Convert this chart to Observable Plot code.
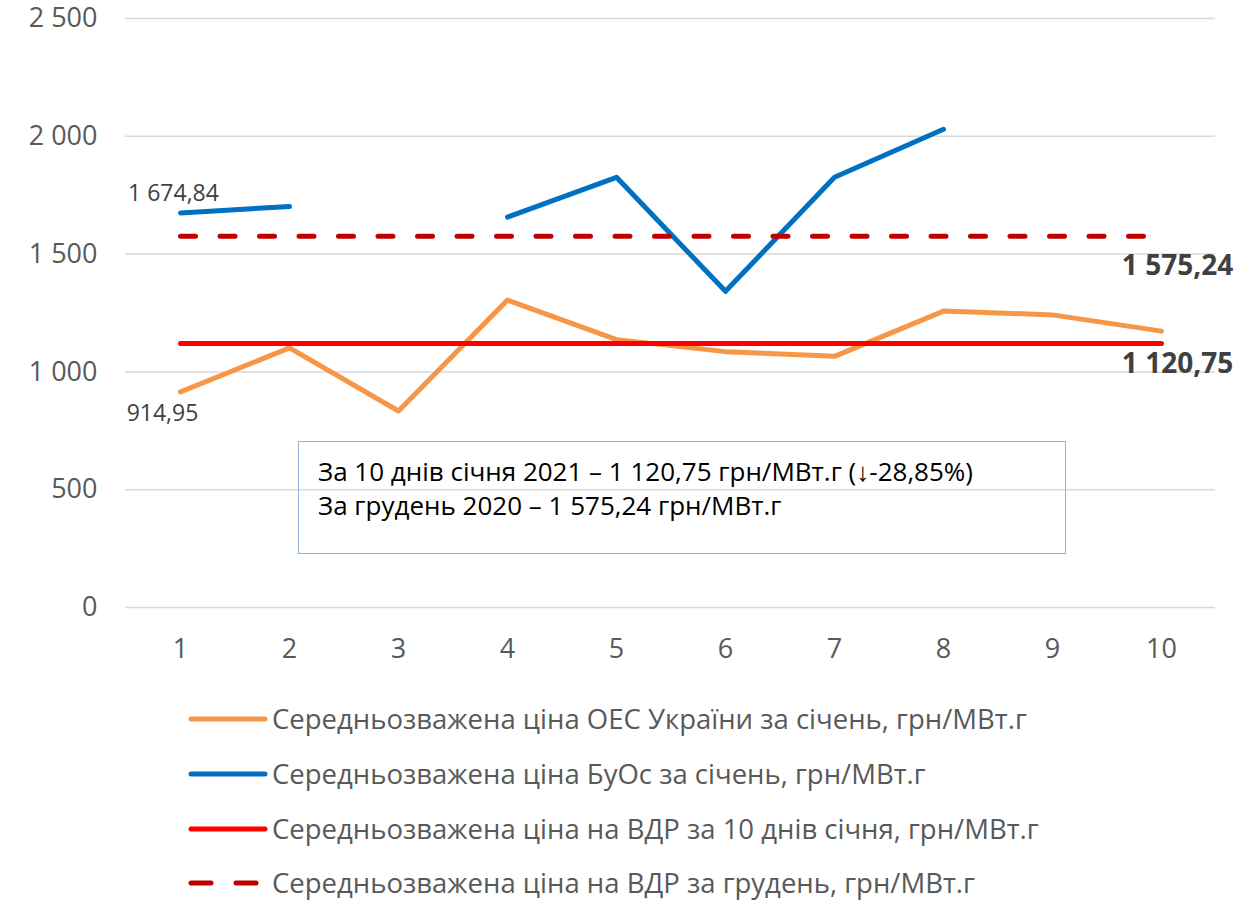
<!DOCTYPE html>
<html>
<head>
<meta charset="utf-8">
<script src="https://cdn.jsdelivr.net/npm/d3@7"></script>
<script src="https://cdn.jsdelivr.net/npm/@observablehq/plot@0.6"></script>
<style>
  html, body { margin: 0; padding: 0; background: #fff; }
  #wrap { position: relative; width: 1236px; height: 900px; font-family: "Open Sans", "Liberation Sans", sans-serif; }
  #chart svg { overflow: visible; }
  #note { position: absolute; left: 298px; top: 441px; width: 766px; height: 111px; border: 1.5px solid #95B3D7; box-sizing: content-box; font-size: 26px; color: #000; }
  #note div { position: absolute; left: 19px; white-space: nowrap; line-height: 1; }
  .leg { position: absolute; left: 188px; height: 36px; display: flex; align-items: center; font-size: 27.5px; line-height: 1; color: #595959; white-space: nowrap; }
  .leg svg { margin-right: 4px; }
</style>
</head>
<body>
<div id="wrap">
  <div id="chart"></div>
  <div id="note">
    <div style="top: 16px;">За 10 днів січня 2021 – 1 120,75 грн/МВт.г (↓-28,85%)</div>
    <div style="top: 50px;">За грудень 2020 – 1 575,24 грн/МВт.г</div>
  </div>
  <div id="legend"></div>
</div>
<script>
const days = [1, 2, 3, 4, 5, 6, 7, 8, 9, 10];
const oesPrices = [914.95, 1102, 834, 1305, 1137, 1086, 1066, 1258, 1242, 1173];
const buosPrices = [1674.84, 1702, null, 1657, 1826, 1342, 1826, 2030, null, null];
const vdrJanuary = 1120.75;
const vdrDecember = 1575.24;
const yTicks = [0, 500, 1000, 1500, 2000, 2500];

const seriesNames = [
  "Середньозважена ціна ОЕС України за січень, грн/МВт.г",
  "Середньозважена ціна БуОс за січень, грн/МВт.г",
  "Середньозважена ціна на ВДР за 10 днів січня, грн/МВт.г",
  "Середньозважена ціна на ВДР за грудень, грн/МВт.г"
];
const seriesColors = ["#F79646", "#0070C0", "#FF0000", "#C00000"];
const seriesDash = [null, null, null, "15,24.5"];

const loc = d3.formatLocale({decimal: ",", thousands: " ", grouping: [3], currency: ["", ""]});
const fmtInt = loc.format(",.0f");
const fmt2 = loc.format(",.2f");

const oesRows = days.map((d, i) => ({day: d, price: oesPrices[i]}));
const buosRows = days.map((d, i) => ({day: d, price: buosPrices[i]}));
const janRows = days.map(d => ({day: d, price: vdrJanuary}));
const decRows = days.map(d => ({day: d, price: vdrDecember}));

const font = '"Open Sans", "Liberation Sans", sans-serif';

const chart = Plot.plot({
  width: 1236,
  height: 680,
  marginLeft: 125,
  marginRight: 21,
  marginTop: 18,
  marginBottom: 73,
  style: {fontFamily: font, background: "transparent", color: "#595959", overflow: "visible"},
  x: {type: "point", domain: days, padding: 0.5},
  y: {domain: [0, 2500]},
  marks: [
    Plot.gridY(yTicks, {stroke: "#D9D9D9", strokeOpacity: 1, strokeWidth: 1.5}),
    Plot.axisY(yTicks, {tickSize: 0, tickPadding: 28, tickFormat: fmtInt, fontSize: 27, fill: "#595959", label: null}),
    Plot.axisX(days, {tickSize: 0, tickPadding: 31, fontSize: 27, fill: "#595959", label: null}),
    Plot.line(oesRows, {x: "day", y: "price", stroke: seriesColors[0], strokeWidth: 5, strokeLinecap: "round", strokeLinejoin: "round"}),
    Plot.line(buosRows, {x: "day", y: "price", stroke: seriesColors[1], strokeWidth: 5, strokeLinecap: "round", strokeLinejoin: "round"}),
    Plot.line(janRows, {x: "day", y: "price", stroke: seriesColors[2], strokeWidth: 5, strokeLinecap: "round"}),
    Plot.line(decRows, {x: "day", y: "price", stroke: seriesColors[3], strokeWidth: 5, strokeLinecap: "round", strokeDasharray: seriesDash[3]}),
    Plot.text([oesRows[0]], {x: "day", y: "price", text: d => fmt2(d.price), dx: -18, dy: 22, fontSize: 23, fill: "#404040"}),
    Plot.text([buosRows[0]], {x: "day", y: "price", text: d => fmt2(d.price), dx: -7, dy: -19, fontSize: 23, fill: "#404040"}),
    Plot.text([decRows[9]], {x: "day", y: "price", text: d => fmt2(d.price), dx: 16, dy: 30, fontSize: 28, fontWeight: "bold", fill: "#404040"}),
    Plot.text([janRows[9]], {x: "day", y: "price", text: d => fmt2(d.price), dx: 16, dy: 21, fontSize: 28, fontWeight: "bold", fill: "#404040"})
  ]
});
document.getElementById("chart").appendChild(chart);

const legend = document.getElementById("legend");
const rowTops = [701, 756, 811, 865];
seriesNames.forEach((name, i) => {
  const row = document.createElement("div");
  row.className = "leg";
  row.style.top = rowTops[i] + "px";
  const dash = seriesDash[i] ? 'stroke-dasharray="20,25"' : "";
  row.innerHTML = `<svg width="80" height="10"><line x1="3" y1="5" x2="77" y2="5" stroke="${seriesColors[i]}" stroke-width="5" stroke-linecap="round" ${dash}/></svg><span>${name}</span>`;
  legend.appendChild(row);
});
</script>
</body>
</html>
